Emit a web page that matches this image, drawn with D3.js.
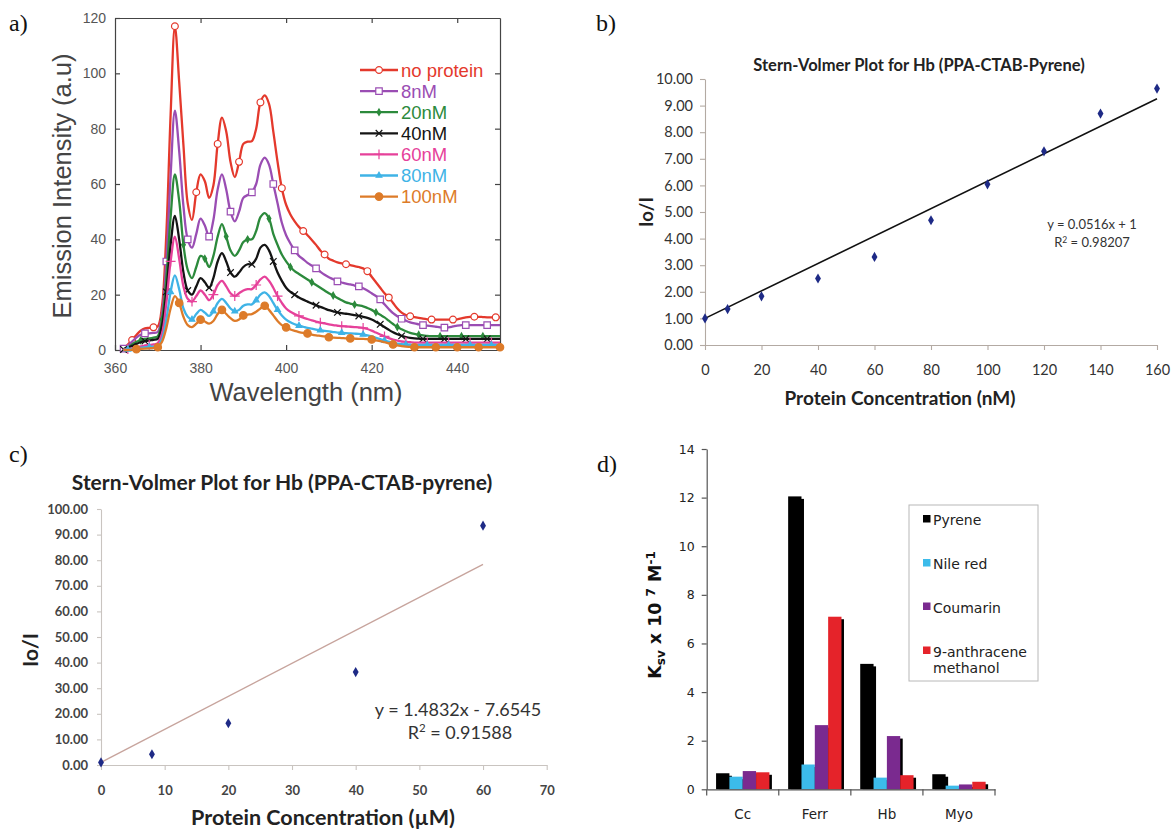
<!DOCTYPE html>
<html><head><meta charset="utf-8">
<script src="https://cdn.jsdelivr.net/npm/d3@7"></script>
<style>body{margin:0;background:#fff}svg{display:block}</style>
</head><body>
<svg id="fig" width="1171" height="829"></svg>
<script>
// ---------- Panel a: emission spectra ----------
const wavelengths = [362,363,364,365,366,367,368,369,370,371,
 372,373,374,375,376,377,378,379,380,381,
 382,383,384,385,386,387,388,389,390,391,
 392,393,394,395,396,397,398,399,400,401,
 402,403,404,405,406,407,408,409,410,411,
 412,413,414,415,416,417,418,419,420,421,
 422,423,424,425,426,427,428,429,430,431,
 432,433,434,435,436,437,438,439,440,441,
 442,443,444,445,446,447,448,449,450];
const seriesNames = ["no protein","8nM","20nM","40nM","60nM","80nM","100nM"];
const noProtein = [0.6,2,3.6,5.4,7,7.8,8,8.2,8.5,16,
 42,85,117,97,74,53,47,57,63.5,61,
 55,59.5,74.5,84,79,68,62.5,68,74.5,75.3,
 75.5,80,89.5,92,89,79,68,58.5,52.5,49,
 46.5,44.5,43,41.5,39.8,38,36,34.5,33,32.3,
 31.7,31.3,31,30.7,30.3,30,29.5,28.5,26.5,24.5,
 22.5,20.5,19,17,15,13.5,12.6,12.2,11.9,11.6,
 11.3,11.1,11,11,11,11,11,11,11.1,11.4,
 11.8,12,12,12,11.9,11.8,11.8,11.8,11.8];
const nM8 = [0.5,1.5,3,4.5,5.5,6,6,6.2,6.5,13,
 32,63,86.5,72,52,40,37,42,47.5,45,
 41,47,58,63.5,58,50,46.5,50,55,56,
 57,60,67,69.5,67,60,53,46,41.5,38.5,
 36,34,32.8,31.5,30.5,29.5,28.3,27.2,26.3,25.6,
 24.8,24.4,24,23.7,23.3,23,22.3,21.5,20.5,19.5,
 18.3,16.5,14.8,13.3,12.2,11.3,10.6,10,9.6,9.3,
 9,8.8,8.6,8.4,8.2,8.1,8.2,8.5,8.8,9,
 9,9,9,9,9,9,9,9,9];
const nM20 = [0.3,1,2,3,3.5,4,4.2,4.5,5,11,
 26,48,63.5,54,38,29,26,30,34,33,
 30,34,41,45.5,41,36,34,36,39,40,
 40,43,48,49.5,47.5,42,38,34.5,32,30,
 28.5,27.5,26.5,25.5,24.5,23.5,22.5,21.5,20.5,19.7,
 18.8,18,17.2,16.8,16.4,16.1,15.8,15.2,14.5,13.6,
 12.7,11.8,10.6,9.4,8.3,7.5,6.8,6.2,5.8,5.5,
 5.3,5.1,5,5,5,5,5,5,5,5,
 5,5,5,5,5,5,5,5,5];
const nM40 = [0.2,0.8,1.5,2.2,2.8,3.2,3.5,3.7,4,9,
 21,38,48.5,40,28,21.5,20,23,26,24.5,
 22.5,26,32,35,32,28,26.5,28,30,31,
 31,33,37,38,36,32,28,25,22.5,21,
 20,19,18.2,17.5,16.8,16.2,15.6,15,14.4,14,
 13.6,13.3,13.1,12.9,12.6,12.3,12,11.6,11,10.2,
 9.3,8.3,7.3,6.4,5.7,5.1,4.7,4.4,4.2,4.1,
 4,4,4,4,4,4,4,4,4,4,
 4,4,4,4,4,4,4,4,4];
const nM60 = [0,0.3,0.6,1,1.3,1.6,1.8,2,2.5,6,
 17,32,41,33,23,18.5,17.5,19.5,21.5,20,
 18,20,23.5,25,23,20.5,19.5,20.5,21.5,22,
 22,23.5,25.5,26.5,25,22.5,19.5,17,15,13.8,
 13,12.3,11.7,11.2,10.7,10.3,9.9,9.6,9.3,9,
 8.8,8.6,8.5,8.4,8.3,8.2,8,7.6,7,6.3,
 5.6,4.9,4.3,3.8,3.4,3.1,2.9,2.8,2.7,2.7,
 2.7,2.7,2.7,2.7,2.7,2.7,2.7,2.7,2.7,2.7,
 2.7,2.7,2.7,2.7,2.7,2.7,2.7,2.7,2.7];
const nM80 = [0,0.2,0.4,0.6,0.8,1,1.1,1.2,1.5,4,
 11,21,27,22,15,12,11,13,14.5,13.5,
 12.3,14,17,18.5,17,15,14,14.5,16,16.5,
 16.5,18,20,20.8,19.5,17,14.5,12.5,11,10,
 9.3,8.8,8.4,8,7.7,7.4,7.1,6.9,6.7,6.5,
 6.3,6.2,6.1,6,5.9,5.8,5.6,5.3,4.9,4.4,
 3.9,3.4,3,2.6,2.3,2.1,2,1.9,1.8,1.8,
 1.8,1.8,1.8,1.8,1.8,1.8,1.8,1.8,1.8,1.8,
 1.8,1.8,1.8,1.8,1.8,1.8,1.8,1.8,1.8];
const nM100 = [0,0,0.1,0.3,0.4,0.5,0.6,0.7,1,3,
 8,15,19.5,17,12,9,8.3,9.5,11,10.3,
 9.5,10.5,13,14.5,13,11.5,10.5,11,12.5,12.8,
 13,13.8,15,16,14.5,12.5,10.5,9,8.2,7.4,
 6.9,6.5,6.2,6,5.6,5.3,5.1,4.9,4.6,4.5,
 4.4,4.3,4.2,4.2,4.1,4,4,3.9,3.8,3.5,
 3.2,2.8,2.4,2,1.7,1.4,1.2,1.1,1,1,
 1,1,1,1,1,1,1,1,1,1,
 1,1,1,1,1,1,1,1,1];
const xTicksA = [360,380,400,420,440];
const yTicksA = [0,20,40,60,80,100,120];

// ---------- Panel b ----------
const concB = [0,8,20,40,60,80,100,120,140,160];
const ratioB = [1.00,1.35,1.83,2.50,3.31,4.69,6.04,7.28,8.70,9.64];
const fitB = {slope:0.0516, intercept:1, from:0, to:160};
const xTicksB = [0,20,40,60,80,100,120,140,160];
const yTicksB = [0,1,2,3,4,5,6,7,8,9,10];

// ---------- Panel c ----------
const concC = [0,8,20,40,60];
const ratioC = [1.0,4.2,16.3,36.3,93.5];
const trendC = [{x:0,y:1.0},{x:60,y:78.4}];
const xTicksC = [0,10,20,30,40,50,60,70];
const yTicksC = [0,10,20,30,40,50,60,70,80,90,100];

// ---------- Panel d ----------
const proteins = ["Cc","Ferr","Hb","Myo"];
const probes = ["Pyrene","Nile red","Coumarin","9-anthracene methanol"];
const pyrene = [0.66,12.05,5.16,0.62];
const nileRed = [0.52,1.02,0.48,0.15];
const coumarin = [0.75,2.64,2.19,0.20];
const anthracene = [0.70,7.10,0.58,0.31];
const yTicksD = [0,2,4,6,8,10,12,14];

const svg = d3.select("#fig");

// ================= Panel a =================
(function(){
  const FONT = "'Liberation Sans', Arial, sans-serif";
  const x = d3.scaleLinear().domain([360,450]).range([115,500]);
  const y = d3.scaleLinear().domain([0,120]).range([350,18]);
  const g = svg.append("g");
  const axisStyle = sel => { sel.selectAll("path,line").attr("stroke","#444").attr("stroke-width",1.2);
     sel.selectAll("text").attr("fill","#555").style("font-family",FONT).style("font-size","14px"); };
  g.append("g").attr("transform","translate(0,350)")
    .call(d3.axisBottom(x).tickValues(xTicksA).tickSizeInner(-5).tickSizeOuter(0).tickPadding(13)).call(axisStyle);
  g.append("g").attr("transform","translate(115,0)")
    .call(d3.axisLeft(y).tickValues(yTicksA).tickSizeInner(-5).tickSizeOuter(0).tickPadding(9)).call(axisStyle);
  g.append("g").attr("transform","translate(0,18)")
    .call(d3.axisTop(x).tickValues(xTicksA.slice(1)).tickSizeInner(-5).tickSizeOuter(0).tickFormat("")).call(axisStyle);
  g.append("g").attr("transform","translate(500,0)")
    .call(d3.axisRight(y).tickValues(yTicksA.slice(1,-1)).tickSizeInner(-5).tickSizeOuter(0).tickFormat("")).call(axisStyle);

  const series = [
    {name:seriesNames[0], vals:noProtein, color:"#e4392c", sym:"circleOpen", off:4},
    {name:seriesNames[1], vals:nM8, color:"#9a4db3", sym:"squareOpen", off:2},
    {name:seriesNames[2], vals:nM20, color:"#2c8a3c", sym:"diamond", off:1},
    {name:seriesNames[3], vals:nM40, color:"#141414", sym:"times", off:2},
    {name:seriesNames[4], vals:nM60, color:"#e6419a", sym:"plus", off:3},
    {name:seriesNames[5], vals:nM80, color:"#3fb3e6", sym:"triangle", off:3},
    {name:seriesNames[6], vals:nM100, color:"#dd7b29", sym:"circleFill", off:0}
  ];
  const line = d3.line().curve(d3.curveCatmullRom.alpha(0.5)).x(d=>x(d[0])).y(d=>y(d[1]));
  function drawMarker(sel, s, cx, cy){
    let path, fill="none", stroke=s.color, sw=1.2;
    switch(s.sym){
      case "circleOpen": path=d3.symbol(d3.symbolCircle,36)(); fill="#fff"; break;
      case "squareOpen": path=d3.symbol(d3.symbolSquare,42)(); fill="#fff"; break;
      case "diamond": path=d3.symbol(d3.symbolDiamond,12)(); fill=s.color; break;
      case "times": path=d3.symbol(d3.symbolTimes,30)(); break;
      case "plus": path=d3.symbol(d3.symbolPlus,34)(); break;
      case "triangle": path=d3.symbol(d3.symbolTriangle,14)(); fill=s.color; break;
      case "circleFill": path=d3.symbol(d3.symbolCircle,44)(); fill=s.color; break;
    }
    sel.append("path").attr("d",path).attr("transform",`translate(${cx},${cy})`)
      .attr("fill",fill).attr("stroke",stroke).attr("stroke-width",sw);
  }
  series.forEach(s=>{
    const pts = wavelengths.map((w,i)=>[w,s.vals[i]]);
    g.append("path").datum(pts).attr("d",line).attr("fill","none")
      .attr("stroke",s.color).attr("stroke-width",2.3).attr("stroke-linejoin","round");
    const mg = g.append("g");
    pts.forEach(p=>{ if((p[0]-s.off)%5===0) drawMarker(mg,s,x(p[0]),y(p[1])); });
  });
  // legend
  const lg = g.append("g");
  series.forEach((s,i)=>{
    const cy = 70 + i*21.1;
    lg.append("line").attr("x1",360).attr("x2",398).attr("y1",cy).attr("y2",cy)
      .attr("stroke",s.color).attr("stroke-width",2.3);
    drawMarker(lg,s,379,cy);
    lg.append("text").attr("x",401).attr("y",cy+6.5).text(s.name)
      .attr("fill",s.color).style("font-family",FONT).style("font-size","18.5px");
  });
  g.append("text").attr("transform","translate(71,186) rotate(-90)").attr("text-anchor","middle")
    .text("Emission Intensity (a.u)").attr("fill","#444").style("font-family",FONT).style("font-size","25.5px");
  g.append("text").attr("x",306).attr("y",401).attr("text-anchor","middle")
    .text("Wavelength (nm)").attr("fill","#444").style("font-family",FONT).style("font-size","25.5px");
})();

// ================= Panel b =================
(function(){
  const FONT = "Lato, 'Open Sans', sans-serif";
  const x = d3.scaleLinear().domain([0,160]).range([705,1157]);
  const y = d3.scaleLinear().domain([0,10]).range([345,79]);
  const g = svg.append("g");
  const st = sel => { sel.selectAll("path,line").attr("stroke","#b3aaa3").attr("stroke-width",1.1);
     sel.selectAll("text").attr("fill","#333").style("font-family",FONT).style("font-size","14.5px"); };
  g.append("g").attr("transform","translate(0,345)")
    .call(d3.axisBottom(x).tickValues(xTicksB).tickSizeInner(5).tickSizeOuter(0).tickPadding(15)).call(st);
  g.append("g").attr("transform","translate(705,0)")
    .call(d3.axisLeft(y).tickValues(yTicksB).tickFormat(d3.format(".2f")).tickSizeInner(5).tickSizeOuter(0).tickPadding(7)).call(st);
  g.append("line").attr("x1",x(fitB.from)).attr("y1",y(fitB.intercept+fitB.slope*fitB.from))
    .attr("x2",x(fitB.to)).attr("y2",y(fitB.intercept+fitB.slope*fitB.to))
    .attr("stroke","#111").attr("stroke-width",1.6);
  g.selectAll(".pb").data(concB).enter().append("path")
    .attr("d",d3.symbol(d3.symbolDiamond,30)())
    .attr("transform",(d,i)=>`translate(${x(d)},${y(ratioB[i])})`).attr("fill","#1e2a86");
  g.append("text").attr("x",919).attr("y",71).attr("text-anchor","middle")
    .text("Stern-Volmer Plot for Hb (PPA-CTAB-Pyrene)").attr("fill","#222")
    .style("font-family",FONT).style("font-weight","bold").style("font-size","16.5px");
  g.append("text").attr("x",900).attr("y",405).attr("text-anchor","middle")
    .text("Protein Concentration (nM)").attr("fill","#222")
    .style("font-family",FONT).style("font-weight","bold").style("font-size","19px");
  g.append("text").attr("transform","translate(653,212) rotate(-90)").attr("text-anchor","middle")
    .text("Io/I").attr("fill","#222").style("font-family",FONT).style("font-weight","bold").style("font-size","18.5px");
  g.append("text").attr("x",1092).attr("y",229).attr("text-anchor","middle")
    .text("y = 0.0516x + 1").attr("fill","#333").style("font-family",FONT).style("font-size","13px");
  const r = g.append("text").attr("x",1092).attr("y",247).attr("text-anchor","middle")
    .attr("fill","#333").style("font-family",FONT).style("font-size","13px");
  r.append("tspan").text("R");
  r.append("tspan").text("2").attr("dy",-4).style("font-size","8.5px");
  r.append("tspan").text(" = 0.98207").attr("dy",4);
  svg.append("text").attr("x",596).attr("y",31).text("b)").attr("fill","#111")
    .style("font-family","'Liberation Serif', serif").style("font-size","24px");
})();
svg.append("text").attr("x",9).attr("y",31).text("a)").attr("fill","#111")
  .style("font-family","'Liberation Serif', serif").style("font-size","24px");

// ================= Panel c =================
(function(){
  const FONT = "Lato, 'Open Sans', sans-serif";
  const x = d3.scaleLinear().domain([0,70]).range([101,546.7]);
  const y = d3.scaleLinear().domain([0,100]).range([765,509]);
  const g = svg.append("g");
  const st = sel => { sel.selectAll("path,line").attr("stroke","#c9c4c0").attr("stroke-width",1.1);
     sel.selectAll("text").attr("fill","#444").style("font-family",FONT).style("font-size","13px").style("font-weight","bold"); };
  g.append("g").attr("transform","translate(0,765)")
    .call(d3.axisBottom(x).tickValues(xTicksC).tickSizeInner(5).tickSizeOuter(0).tickPadding(16)).call(st);
  g.append("g").attr("transform","translate(101,0)")
    .call(d3.axisLeft(y).tickValues(yTicksC).tickFormat(d3.format(".2f")).tickSizeInner(4).tickSizeOuter(0).tickPadding(9)).call(st);
  g.append("path").datum(trendC).attr("d",d3.line().x(d=>x(d.x)).y(d=>y(d.y)))
    .attr("stroke","#c7a49d").attr("stroke-width",1.4).attr("fill","none");
  g.selectAll(".pc").data(concC).enter().append("path")
    .attr("d",d3.symbol(d3.symbolDiamond,30)())
    .attr("transform",(d,i)=>`translate(${x(d)},${y(ratioC[i])})`).attr("fill","#1e2a86");
  g.append("text").attr("x",282).attr("y",490).attr("text-anchor","middle")
    .text("Stern-Volmer Plot for Hb (PPA-CTAB-pyrene)").attr("fill","#222")
    .style("font-family",FONT).style("font-weight","bold").style("font-size","21px");
  g.append("text").attr("x",323).attr("y",825).attr("text-anchor","middle")
    .text("Protein Concentration (µM)").attr("fill","#222")
    .style("font-family",FONT).style("font-weight","bold").style("font-size","21.5px");
  g.append("text").attr("transform","translate(38,650) rotate(-90)").attr("text-anchor","middle")
    .text("Io/I").attr("fill","#222").style("font-family",FONT).style("font-weight","bold").style("font-size","21px");
  g.append("text").attr("x",458).attr("y",716).attr("text-anchor","middle")
    .text("y = 1.4832x - 7.6545").attr("fill","#333").style("font-family",FONT).style("font-size","18px");
  const r = g.append("text").attr("x",460).attr("y",739).attr("text-anchor","middle")
    .attr("fill","#333").style("font-family",FONT).style("font-size","18px");
  r.append("tspan").text("R");
  r.append("tspan").text("2").attr("dy",-7).style("font-size","11.5px");
  r.append("tspan").text(" = 0.91588").attr("dy",7);
  svg.append("text").attr("x",9).attr("y",462).text("c)").attr("fill","#111")
    .style("font-family","'Liberation Serif', serif").style("font-size","24px");
})();

// ================= Panel d =================
(function(){
  const FONT = "'DejaVu Sans', Verdana, sans-serif";
  const x0 = d3.scaleBand().domain(proteins).range([706.7,995]).paddingInner(0.26).paddingOuter(0.13);
  const x1 = d3.scaleBand().domain(probes).range([0,x0.bandwidth()]);
  const y = d3.scaleLinear().domain([0,14]).range([789.3,449]);
  const colors = ["#000000","#3cbbea","#7a2a8f","#e5232a"];
  const seriesD = [pyrene,nileRed,coumarin,anthracene];
  const g = svg.append("g");
  // shadows
  proteins.forEach((p,i)=>{
    seriesD.forEach((vals,j)=>{
      g.append("rect").attr("x",x0(p)+x1(probes[j])+2.5).attr("y",y(vals[i])+2.5)
        .attr("width",x1.bandwidth()).attr("height",y(0)-y(vals[i])-2.5).attr("fill","#000");
    });
  });
  proteins.forEach((p,i)=>{
    seriesD.forEach((vals,j)=>{
      g.append("rect").attr("x",x0(p)+x1(probes[j])).attr("y",y(vals[i]))
        .attr("width",x1.bandwidth()).attr("height",y(0)-y(vals[i])).attr("fill",colors[j]);
    });
  });
  const st = sel => { sel.selectAll("path,line").attr("stroke","#555").attr("stroke-width",1.2);
     sel.selectAll("text").attr("fill","#222").style("font-family",FONT).style("font-size","12.5px"); };
  g.append("g").attr("transform","translate(706.7,0)")
    .call(d3.axisLeft(y).tickValues(yTicksD).tickSizeInner(5).tickSizeOuter(0).tickPadding(7)).call(st);
  const xa = g.append("g").attr("transform","translate(0,789.3)")
    .call(d3.axisBottom(x0).tickSize(0).tickPadding(20)).call(st);
  xa.selectAll("text").style("font-size","13.5px");
  const step = x0.step(), r0 = x0.range()[0];
  proteins.concat(["end"]).forEach((p,i)=>{
    g.append("line").attr("x1",r0+i*step).attr("x2",r0+i*step).attr("y1",789.3).attr("y2",795.5)
      .attr("stroke","#555").attr("stroke-width",1.2);
  });
  // legend
  g.append("rect").attr("x",909).attr("y",505).attr("width",129).attr("height",176)
    .attr("fill","#fff").attr("stroke","#b8b8b8").attr("stroke-width",1);
  const rows = [[525],[569],[612.5],[656.5,673]];
  const labels = [["Pyrene"],["Nile red"],["Coumarin"],["9-anthracene","methanol"]];
  rows.forEach((r,j)=>{
    g.append("rect").attr("x",923).attr("y",r[0]-10).attr("width",7.5).attr("height",7.5).attr("fill",colors[j]);
    labels[j].forEach((t,k)=>{
      g.append("text").attr("x",933).attr("y",r[k]).text(t).attr("fill","#222")
        .style("font-family",FONT).style("font-size","14px");
    });
  });
  const t = g.append("text").attr("transform","translate(661,615) rotate(-90)").attr("text-anchor","middle")
    .attr("fill","#111").style("font-family",FONT).style("font-weight","bold").style("font-size","17.5px");
  t.append("tspan").text("K");
  t.append("tspan").text("sv").attr("dy",4).style("font-size","12px");
  t.append("tspan").text(" x 10 ").attr("dy",-4);
  t.append("tspan").text("7").attr("dy",-6).style("font-size","12px");
  t.append("tspan").text(" M").attr("dy",6);
  t.append("tspan").text("-1").attr("dy",-6).style("font-size","12px");
  svg.append("text").attr("x",597).attr("y",472).text("d)").attr("fill","#111")
    .style("font-family","'Liberation Serif', serif").style("font-size","24px");
})();
</script>
</body></html>
